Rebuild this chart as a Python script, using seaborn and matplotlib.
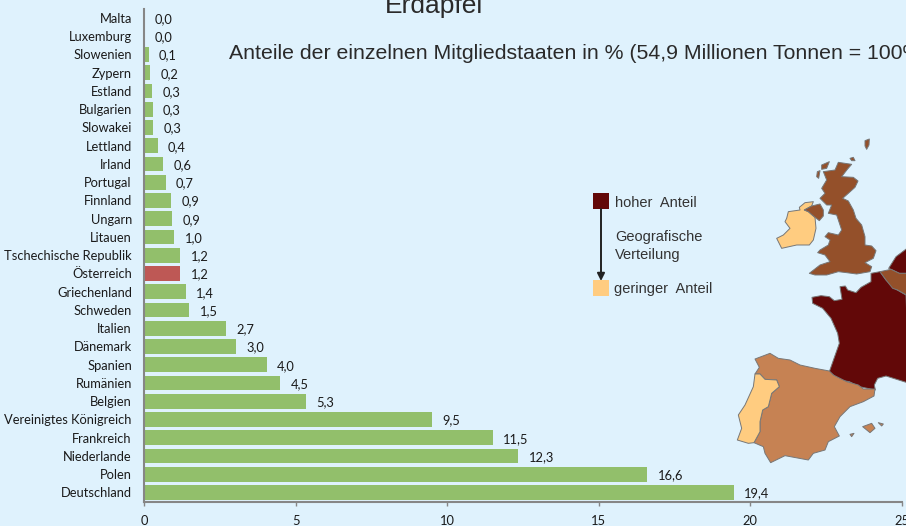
import matplotlib
matplotlib.use('Agg')
import matplotlib.pyplot as plt
import seaborn as sns
import pandas as pd

laender = ['Malta', 'Luxemburg', 'Slowenien', 'Zypern', 'Estland', 'Bulgarien', 'Slowakei', 'Lettland',
           'Irland', 'Portugal', 'Finnland', 'Ungarn', 'Litauen', 'Tschechische Republik', 'Österreich',
           'Griechenland', 'Schweden', 'Italien', 'Dänemark', 'Spanien', 'Rumänien', 'Belgien',
           'Vereinigtes Königreich', 'Frankreich', 'Niederlande', 'Polen', 'Deutschland']
# bar lengths as measured, labels as printed
anteil = [0.01, 0.03, 0.15, 0.2, 0.28, 0.29, 0.3, 0.45, 0.63, 0.72, 0.9, 0.93, 1.0, 1.2, 1.2,
          1.37, 1.5, 2.72, 3.05, 4.05, 4.5, 5.35, 9.5, 11.5, 12.35, 16.6, 19.45]
labels = ['0,0', '0,0', '0,1', '0,2', '0,3', '0,3', '0,3', '0,4', '0,6', '0,7', '0,9', '0,9', '1,0', '1,2', '1,2',
          '1,4', '1,5', '2,7', '3,0', '4,0', '4,5', '5,3', '9,5', '11,5', '12,3', '16,6', '19,4']
x_ticks = [0, 5, 10, 15, 20, 25]

BG = '#DFF2FD'
TXT = '#1a1a1a'
GRAU = '#868686'
DUNKEL = '#620808'
MITTEL = '#94502A'
HELLBRAUN = '#C68253'
HELL = '#FFCC80'

df = pd.DataFrame({'land': laender, 'anteil': anteil})
df['farbe'] = ['at' if l == 'Österreich' else 'eu' for l in laender]

W, H = 906, 526
fig = plt.figure(figsize=(W / 100, H / 100), dpi=100, facecolor=BG)
ax = fig.add_axes([144 / W, 1 - 501.6 / H, 758 / W, 492.75 / H], facecolor='none')

sns.barplot(data=df, y='land', x='anteil', hue='farbe', palette={'eu': '#92BF6B', 'at': '#BE5855'},
            dodge=False, legend=False, width=0.8, saturation=1, ax=ax)
ax.set_xlim(0, 25)
ax.set_xticks(x_ticks)
ax.set_xlabel('')
ax.set_ylabel('')
ax.tick_params(axis='y', length=0, pad=8.8, labelsize=9.25, labelcolor=TXT, labelfontfamily='Lato')
ax.tick_params(axis='x', length=3, width=1, color=GRAU, pad=6.5, labelsize=9.25, labelcolor=TXT, labelfontfamily='Lato')
for lab in ax.get_xticklabels():
    lab.set_clip_on(False)
for s in ['top', 'right']:
    ax.spines[s].set_visible(False)
for s in ['left', 'bottom']:
    ax.spines[s].set_color(GRAU)
    ax.spines[s].set_linewidth(1.5)

for i, (wert, lab) in enumerate(zip(anteil, labels)):
    ax.annotate(lab, (wert, i), xytext=(7.3, -0.8), textcoords='offset points', va='center', ha='left',
                fontsize=9.25, color=TXT, family='Lato')

# overlay in pixel coordinates for the map, legend and headings
ov = fig.add_axes([0, 0, 1, 1], facecolor='none')
ov.set_xlim(0, W)
ov.set_ylim(H, 0)
ov.axis('off')


def flaeche(punkte, farbe, x0, y0):
    xs = [x0 + p[0] / 3 for p in punkte]
    ys = [y0 + p[1] / 3 for p in punkte]
    ov.fill(xs, ys, facecolor=farbe, edgecolor='#777777', linewidth=0.7, joinstyle='round')


gb = [(205, 97), (245, 103), (232, 118), (215, 140), (250, 142), (264, 153), (255, 172), (235, 190), (218, 205),
      (235, 213), (250, 240), (258, 265), (275, 285), (285, 320), (285, 345), (305, 348), (318, 362), (310, 385),
      (285, 398), (305, 410), (300, 425), (260, 432), (230, 428), (205, 425), (170, 435), (135, 435), (118, 430),
      (150, 405), (180, 395), (165, 375), (143, 368), (150, 360), (175, 345), (180, 330), (165, 320), (175, 308),
      (205, 315), (215, 300), (205, 270), (200, 255), (175, 250), (185, 225), (170, 225), (150, 205), (165, 190),
      (155, 175), (170, 150), (160, 125), (195, 120)]
nordirland = [(103, 240), (125, 228), (150, 222), (160, 240), (160, 258), (148, 272), (135, 262), (115, 245)]
irland = [(55, 245), (90, 240), (88, 232), (105, 218), (130, 215), (125, 228), (103, 240), (115, 245), (135, 262),
          (138, 295), (130, 330), (118, 345), (80, 345), (35, 355), (20, 325), (40, 315), (60, 295), (45, 275), (50, 265)]
inseln_gb = [[(155, 105), (178, 95), (170, 115), (155, 118)],
             [(285, 32), (298, 27), (297, 45), (290, 58), (285, 48)],
             [(240, 85), (250, 82), (255, 92), (245, 92)],
             [(142, 125), (150, 122), (146, 145), (140, 140)]]
frankreich = [(18, 172), (45, 167), (70, 170), (85, 182), (108, 178), (102, 140), (118, 138), (125, 150), (150, 158),
              (165, 142), (195, 125), (195, 100), (222, 95), (240, 120), (265, 145), (300, 165), (310, 430), (240, 408),
              (215, 415), (205, 435), (208, 450), (160, 440), (130, 425), (100, 420), (70, 395), (100, 310), (95, 280),
              (75, 235), (50, 205), (20, 190)]
belgien = [(222, 95), (255, 88), (280, 100), (310, 100), (310, 170), (275, 150), (260, 145), (240, 120)]
holland = [(248, 85), (270, 50), (310, 20), (310, 100), (280, 100), (255, 88)]
spanien = [(165, 207), (210, 190), (235, 205), (270, 210), (300, 225), (345, 235), (388, 243), (400, 255), (440, 275),
           (475, 285), (490, 297), (525, 297), (522, 318), (490, 335), (450, 350), (420, 380), (403, 410), (418, 438),
           (385, 455), (375, 480), (340, 490), (325, 510), (255, 497), (212, 518), (195, 490), (190, 470), (162, 458),
           (180, 425), (180, 395), (188, 360), (205, 350), (215, 310), (238, 290), (230, 270), (195, 268), (180, 252),
           (165, 252), (178, 232)]
portugal = [(165, 252), (180, 252), (195, 268), (230, 270), (238, 290), (215, 310), (205, 350), (188, 360), (180, 395),
            (180, 425), (162, 458), (145, 460), (112, 450), (125, 415), (115, 375), (135, 345), (160, 290)]
balearen = [[(488, 410), (515, 400), (525, 415), (510, 428)], [(535, 398), (550, 402), (545, 408)],
            [(450, 433), (462, 430), (455, 440)]]

flaeche(gb, MITTEL, 770, 130)
flaeche(irland, HELL, 770, 130)
flaeche(nordirland, MITTEL, 770, 130)
for insel in inseln_gb:
    flaeche(insel, MITTEL, 770, 130)
flaeche(frankreich, DUNKEL, 806, 240)
flaeche(holland, DUNKEL, 806, 240)
flaeche(belgien, MITTEL, 806, 240)
flaeche(spanien, HELLBRAUN, 700, 290)
flaeche(portugal, HELL, 700, 290)
for insel in balearen:
    flaeche(insel, HELLBRAUN, 700, 290)
ov.set_xlim(0, W)
ov.set_ylim(H, 0)

# legend
ov.fill([593, 609, 609, 593], [193, 193, 209, 209], color=DUNKEL, lw=0)
ov.fill([593, 609, 609, 593], [280, 280, 296, 296], color=HELL, lw=0)
ov.annotate('', xy=(601, 281), xytext=(601, 209),
            arrowprops=dict(arrowstyle='-|>', color='#222222', lw=1.4, shrinkA=0, shrinkB=0, mutation_scale=11))
kw = dict(family='Liberation Sans', fontsize=10.5, color='#333333', va='center', ha='left')
ov.text(615, 203, 'hoher  Anteil', **kw)
ov.text(615, 236.5, 'Geografische', **kw)
ov.text(615, 254.5, 'Verteilung', **kw)
ov.text(614, 289.5, 'geringer  Anteil', **kw)

ov.text(385, 13, 'Erdäpfel', family='Liberation Sans', fontsize=19, color='#2a2a2a', va='baseline', ha='left')
ov.text(229, 59, 'Anteile der einzelnen Mitgliedstaaten in % (54,9 Millionen Tonnen = 100%)',
        family='Liberation Sans', fontsize=15.3, color='#2a2a2a', va='baseline', ha='left')

fig.savefig('out.png', dpi=100, facecolor=BG)
